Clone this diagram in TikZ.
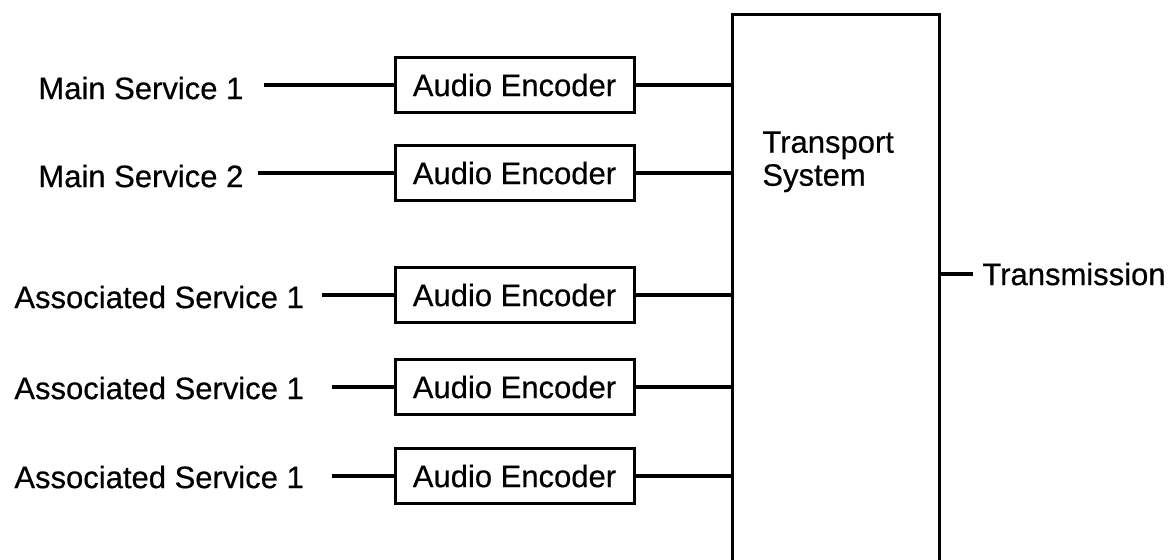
\documentclass[tikz,border=0pt]{standalone}
\usepackage{fontspec}
\setmainfont{Liberation Sans}[FakeBold=0.5]
\begin{document}
\begin{tikzpicture}[x=0.5pt,y=-0.5pt,
  every node/.style={font=\fontsize{15.5}{16.5}\selectfont},
  enc/.style={draw, line width=1.5pt, minimum width=119.5pt, minimum height=27.5pt, inner sep=0pt},
  lab/.style={anchor=west, inner sep=0pt},
  wire/.style={line width=1.6pt},
  tbox/.style={draw, line width=1.6pt, minimum width=103.5pt, minimum height=293.5pt, inner sep=0pt, anchor=north west}]
\useasboundingbox (0,0) rectangle (1170,559);
\clip (0,0) rectangle (1170,559);
% transport system (open at the bottom edge)
\node[tbox] (ts) at (731,13) {};
\node[anchor=north west, align=left, inner sep=0pt] (tt) at (762,131) {Transport\\System};
% encoders
\node[enc] (e1) at (514.5,85) {Audio Encoder};
\node[enc] (e2) at (514.5,173) {Audio Encoder};
\node[enc] (e3) at (514.5,295) {Audio Encoder};
\node[enc] (e4) at (514.5,387) {Audio Encoder};
\node[enc] (e5) at (514.5,476) {Audio Encoder};
% inputs
\node[lab] (s1) at (38,88) {Main Service 1};
\node[lab] (s2) at (38,176) {Main Service 2};
\node[lab] (s3) at (14,297) {Associated Service 1};
\node[lab] (s4) at (14,388) {Associated Service 1};
\node[lab] (s5) at (14,477) {Associated Service 1};
% output
\node[lab] (tx) at (982,274) {Transmission};
% connectors
\draw[wire, shorten <=10pt] (s1.east |- e1.west) -- (e1.west);
\draw[wire, shorten <=7pt] (s2.east |- e2.west) -- (e2.west);
\draw[wire, shorten <=9pt] (s3.east |- e3.west) -- (e3.west);
\draw[wire, shorten <=14pt] (s4.east |- e4.west) -- (e4.west);
\draw[wire, shorten <=14pt] (s5.east |- e5.west) -- (e5.west);
\foreach \i in {1,...,5}{
  \draw[wire] (e\i.east) -- (e\i.east -| ts.west);
}
\draw[wire, shorten >=4.5pt] (ts.east |- tx.west) -- (tx.west);
\end{tikzpicture}
\end{document}
